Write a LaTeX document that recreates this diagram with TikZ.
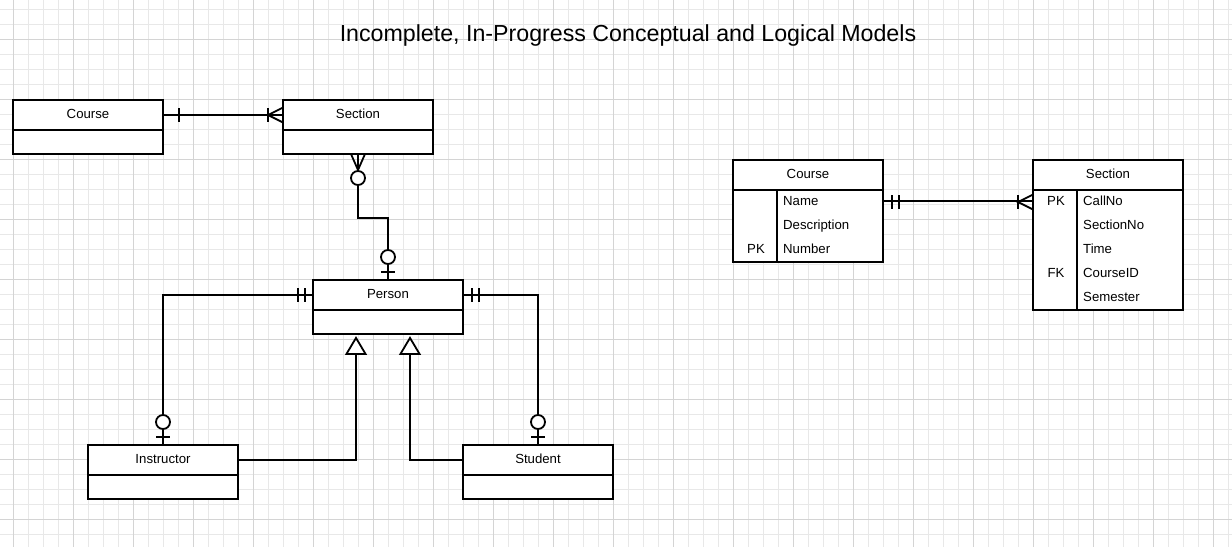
\documentclass[tikz,border=0pt]{standalone}
\usepackage{fontspec}
\setmainfont{Liberation Sans}
\usetikzlibrary{calc}
\definecolor{gridminor}{HTML}{E8E8E8}
\definecolor{gridmajor}{HTML}{D4D4D4}
\tikzset{
  minorline/.style={draw=gridminor, line width=1pt},
  majorline/.style={draw=gridmajor, line width=1pt},
  boxfont/.style={font=\fontsize{13.2}{15}\selectfont},
  hdr/.style={draw, line width=1.8pt, fill=white, minimum width=150pt, minimum height=30pt, inner sep=0pt},
  bdy/.style={draw, line width=1.8pt, fill=white, minimum width=150pt, inner sep=0pt},
  lbl/.style={boxfont, inner sep=0pt},
  conn/.style={line width=1.8pt},
  tick/.style={line width=1.8pt},
  ring/.style={line width=1.8pt, fill=white},
  tri/.style={line width=1.8pt, fill=white, line join=miter},
}
\begin{document}
\begin{tikzpicture}[x=1pt,y=-1pt]
\useasboundingbox (0,0) rectangle (1232,547);
\fill[white] (0,0) rectangle (1232,547);
% grid
\foreach \x in {13,28,...,1232} \draw[minorline] (\x,0) -- (\x,547);
\foreach \y in {9,24,...,547} \draw[minorline] (0,\y) -- (1232,\y);
\foreach \x in {13,73,...,1232} \draw[majorline] (\x,0) -- (\x,547);
\foreach \y in {39,99,...,547} \draw[majorline] (0,\y) -- (1232,\y);

% title
\node[inner sep=0pt, anchor=base, font=\fontsize{23.2}{27}\selectfont] (title) at (628,41) {Incomplete, In-Progress Conceptual and Logical Models};

% ---------- conceptual model ----------
\node[hdr] (cC) at (88,115) {};
\node[bdy, minimum height=24pt] (cCb) at (88,142) {};
\node[lbl, anchor=base] (cCt) at (88,118) {Course};

\node[hdr] (cS) at (358,115) {};
\node[bdy, minimum height=24pt] (cSb) at (358,142) {};
\node[lbl, anchor=base] (cSt) at (358,118) {Section};

\node[hdr] (pH) at (388,295) {};
\node[bdy, minimum height=24pt] (pB) at (388,322) {};
\node[lbl, anchor=base] (pT) at (388,298) {Person};

\node[hdr] (iH) at (163,460) {};
\node[bdy, minimum height=24pt] (iB) at (163,487) {};
\node[lbl, anchor=base] (iT) at (163,463) {Instructor};

\node[hdr] (sH) at (538,460) {};
\node[bdy, minimum height=24pt] (sB) at (538,487) {};
\node[lbl, anchor=base] (sT) at (538,463) {Student};

% Course -- Section
\draw[conn] (cC.east) -- (cS.west);
\draw[tick] (179,108) -- (179,122);
\draw[tick] (268,108) -- (268,122);
\draw[tick] (283,107.5) -- (268,115) -- (283,122.5);

% Section -- Person
\draw[conn] (cSb.south) -- ++(0,63) -| (pH.north);
\draw[tick] (351,154) -- (358,170) -- (365,154);
\draw[ring] (358,178) circle (7pt);
\draw[ring] (388,257) circle (7pt);
\draw[tick] (381,272) -- (395,272);

% Person -- Instructor
\draw[conn] (pH.west) -| (iH.north);
\draw[tick] (298,288) -- (298,302);
\draw[tick] (305,288) -- (305,302);
\draw[ring] (163,422) circle (7pt);
\draw[tick] (156,437) -- (170,437);

% Person -- Student
\draw[conn] (pH.east) -| (sH.north);
\draw[tick] (472,288) -- (472,302);
\draw[tick] (479,288) -- (479,302);
\draw[ring] (538,422) circle (7pt);
\draw[tick] (531,437) -- (545,437);

% inheritance
\coordinate (apexI) at ($(pB.south)+(-32,3)$);
\coordinate (apexS) at ($(pB.south)+(22,3)$);
\draw[conn] (iH.east) -| ($(apexI)+(0,16)$);
\draw[conn] (sH.west) -| ($(apexS)+(0,16)$);
\draw[tri] (apexI) -- ++(9.5,16) -- ++(-19,0) -- cycle;
\draw[tri] (apexS) -- ++(9.5,16) -- ++(-19,0) -- cycle;

% ---------- logical model ----------
\node[hdr] (lC) at (808,175) {};
\node[bdy, minimum height=72pt] (lCb) at (808,226) {};
\node[lbl, anchor=base] (lCt) at (808,178) {Course};
\draw[line width=1.8pt] ($(lCb.north west)+(45,0)$) -- ($(lCb.south west)+(45,0)$);
\node[lbl, anchor=base west] (lc1) at (783,205) {Name};
\node[lbl, anchor=base west] (lc2) at (783,229) {Description};
\node[lbl, anchor=base west] (lc3) at (783,253) {Number};
\node[lbl, anchor=base] (lk3) at (756,253) {PK};

\node[hdr] (lS) at (1108,175) {};
\node[bdy, minimum height=120pt] (lSb) at (1108,250) {};
\node[lbl, anchor=base] (lSt) at (1108,178) {Section};
\draw[line width=1.8pt] ($(lSb.north west)+(45,0)$) -- ($(lSb.south west)+(45,0)$);
\node[lbl, anchor=base west] (ls1) at (1083,205) {CallNo};
\node[lbl, anchor=base west] (ls2) at (1083,229) {SectionNo};
\node[lbl, anchor=base west] (ls3) at (1083,253) {Time};
\node[lbl, anchor=base west] (ls4) at (1083,277) {CourseID};
\node[lbl, anchor=base west] (ls5) at (1083,301) {Semester};
\node[lbl, anchor=base] (lsk1) at (1056,205) {PK};
\node[lbl, anchor=base] (lsk4) at (1056,277) {FK};

% Course -- Section (logical)
\draw[conn] ($(lCb.north east)+(0,12)$) -- ($(lSb.north west)+(0,12)$);
\draw[tick] (892,195) -- (892,209);
\draw[tick] (899,195) -- (899,209);
\draw[tick] (1018,195) -- (1018,209);
\draw[tick] (1033,194.5) -- (1018,202) -- (1033,209.5);
\end{tikzpicture}
\end{document}
